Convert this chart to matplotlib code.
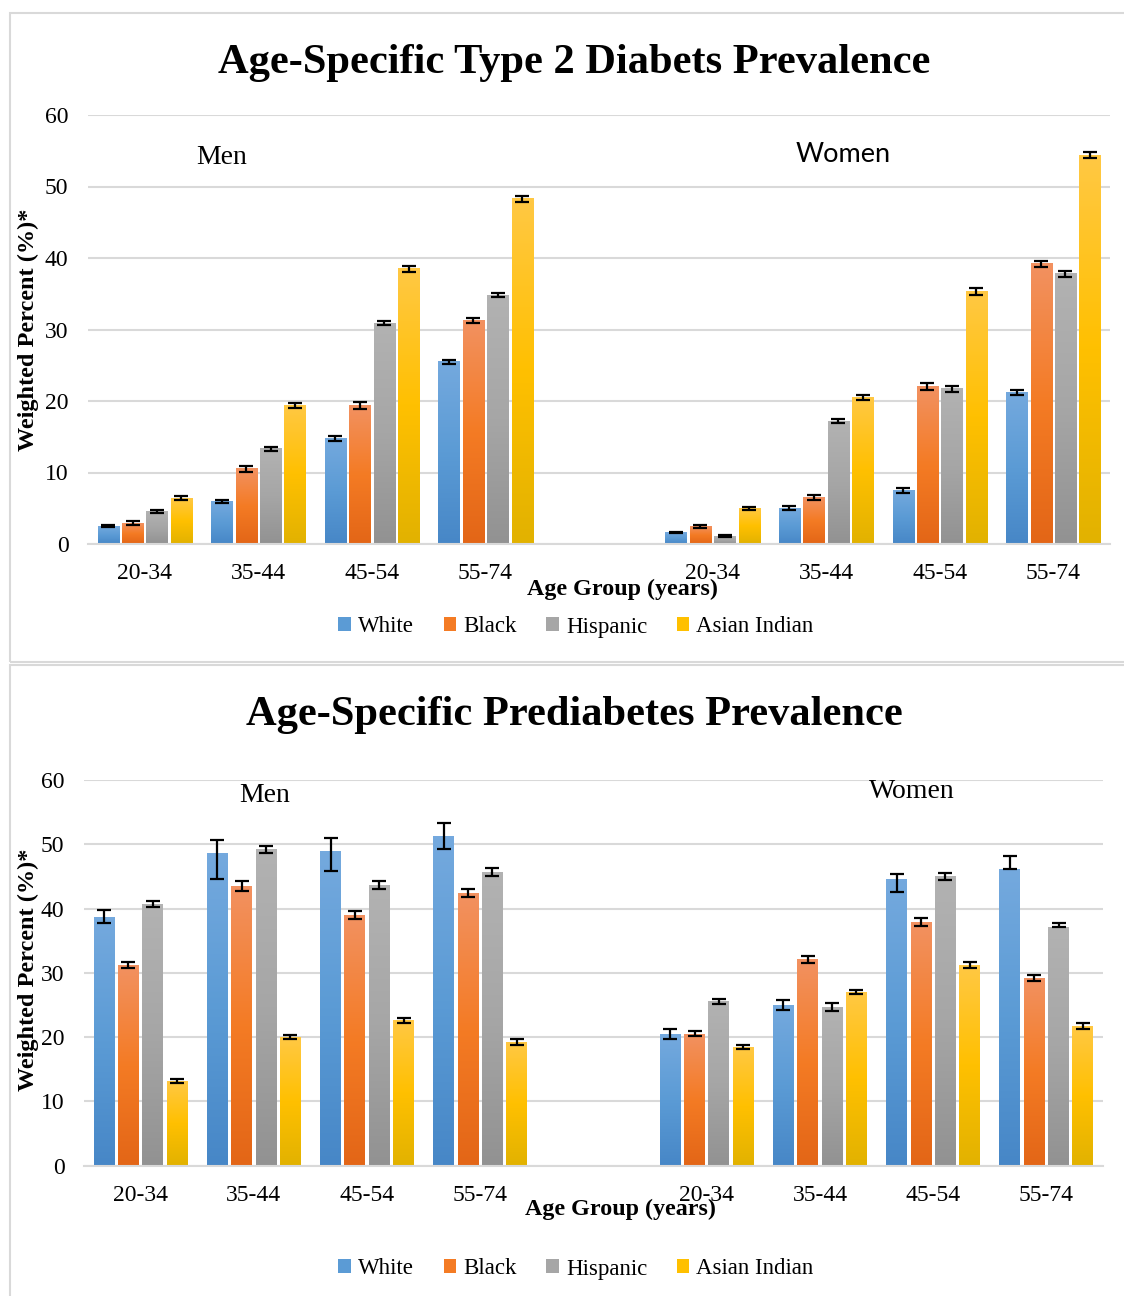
import numpy as np
import matplotlib
matplotlib.use("Agg")
import matplotlib.pyplot as plt
from matplotlib.patches import Patch, Rectangle
from matplotlib.colors import to_rgb

# ---------- data ----------
groups = ["20-34", "35-44", "45-54", "55-74", "", "20-34", "35-44", "45-54", "55-74"]
races = ["White", "Black", "Hispanic", "Asian Indian"]

# Type 2 diabetes (men 4 groups, blank, women 4 groups)
dm_white = [2.5, 5.9, 14.7, 25.5, 0, 1.6, 5.0, 7.5, 21.2]
dm_black = [2.9, 10.5, 19.4, 31.2, 0, 2.5, 6.5, 22.0, 39.2]
dm_hisp = [4.5, 13.3, 30.9, 34.8, 0, 1.1, 17.2, 21.7, 37.8]
dm_asian = [6.4, 19.4, 38.5, 48.3, 0, 5.0, 20.5, 35.3, 54.4]
dm_err_white = [0.1, 0.2, 0.35, 0.3, 0, 0.1, 0.3, 0.3, 0.3]
dm_err_black = [0.25, 0.45, 0.45, 0.35, 0, 0.2, 0.4, 0.45, 0.4]
dm_err_hisp = [0.2, 0.3, 0.3, 0.3, 0, 0.1, 0.3, 0.4, 0.4]
dm_err_asian = [0.25, 0.35, 0.45, 0.4, 0, 0.2, 0.35, 0.45, 0.4]

# Prediabetes
pre_white = [38.7, 48.6, 48.9, 51.3, 0, 20.5, 25.0, 44.6, 46.1]
pre_black = [31.2, 43.5, 39.0, 42.4, 0, 20.5, 32.1, 37.9, 29.2]
pre_hisp = [40.7, 49.2, 43.7, 45.7, 0, 25.6, 24.7, 45.0, 37.1]
pre_asian = [13.2, 20.0, 22.6, 19.2, 0, 18.5, 27.0, 31.2, 21.7]
# (lower, upper)
pre_err_white = ([1.0, 4.0, 3.1, 2.1, 0, 0.8, 0.8, 2.1, 0.0],
                 [1.1, 2.0, 2.1, 2.0, 0, 0.8, 0.8, 0.8, 2.0])
pre_err_black = ([0.5, 0.8, 0.65, 0.6, 0, 0.4, 0.5, 0.6, 0.5],
                 [0.5, 0.8, 0.65, 0.6, 0, 0.4, 0.5, 0.6, 0.5])
pre_err_hisp = ([0.4, 0.6, 0.65, 0.65, 0, 0.4, 0.6, 0.6, 0.0],
                [0.4, 0.6, 0.65, 0.65, 0, 0.4, 0.6, 0.6, 0.7])
pre_err_asian = ([0.3, 0.35, 0.4, 0.45, 0, 0.3, 0.35, 0.45, 0.5],
                 [0.3, 0.35, 0.4, 0.45, 0, 0.3, 0.35, 0.45, 0.5])

# gradient stops (top, middle, bottom) per race
grad = {
    "White": ["#74a9de", "#5b9bd5", "#4787c7"],
    "Black": ["#f29160", "#f47b24", "#e36617"],
    "Hispanic": ["#b2b2b2", "#a6a6a6", "#929292"],
    "Asian Indian": ["#ffc843", "#ffc000", "#e2b200"],
}

W, H = 1124, 1296
fig = plt.figure(figsize=(W / 100, H / 100), dpi=100)
SERIF = "Liberation Serif"


def fx(x):
    return x / W


def fy(y):
    return 1 - y / H


def gradient(stops, n=64):
    c = np.array([to_rgb(s) for s in stops])
    t = np.linspace(0, 1, n)
    img = np.empty((n, 1, 3))
    for k in range(3):
        img[:, 0, k] = np.interp(t, [0, 0.5, 1], c[:, k])
    return img


def panel(rect_ax, series, errs, title, title_y, box, men_xy, women_xy, women_font,
          women_size, xlabel_xy, ylabel_xy, legend_y):
    # panel border
    fig.patches.append(Rectangle((fx(box[0]), fy(box[3])), fx(box[2] - box[0]),
                                 (box[3] - box[1]) / H, transform=fig.transFigure,
                                 fill=False, edgecolor="#d9d9d9", lw=1.5))
    ax = fig.add_axes(rect_ax)
    x = np.arange(len(groups))
    step, width = 0.215, 0.185
    mask = np.array([g != "" for g in groups])
    for i, (race, vals) in enumerate(zip(races, series)):
        off = (i - 1.5) * step
        vals = np.array(vals, dtype=float)
        bars = ax.bar(x[mask] + off, vals[mask], width, color="none", zorder=2)
        img = gradient(grad[race])
        for r in bars:
            x0, w, h = r.get_x(), r.get_width(), r.get_height()
            ax.imshow(img, extent=(x0, x0 + w, 0, h), aspect="auto",
                      interpolation="bilinear", zorder=2)
        e = errs[i]
        if isinstance(e, tuple):
            yerr = np.array([np.array(e[0])[mask], np.array(e[1])[mask]])
        else:
            yerr = np.array(e)[mask]
        ax.errorbar(x[mask] + off, vals[mask], yerr=yerr, fmt="none",
                    ecolor="black", elinewidth=1.6, capsize=5, capthick=1.6, zorder=3)
    ax.set_xlim(-0.5, len(groups) - 0.5)
    ax.set_ylim(0, 60)
    ax.set_yticks(range(0, 61, 10))
    ax.set_xticks(x)
    ax.set_xticklabels(groups)
    ax.yaxis.grid(True, color="#d9d9d9", lw=1.5, zorder=0)
    ax.set_axisbelow(True)
    for s in ["top", "right", "left"]:
        ax.spines[s].set_visible(False)
    ax.spines["bottom"].set_color("#d9d9d9")
    ax.spines["bottom"].set_linewidth(1.5)
    ax.tick_params(length=0, labelsize=17)
    ax.tick_params(axis="x", pad=14)
    ax.tick_params(axis="y", pad=14)
    for lab in ax.get_xticklabels() + ax.get_yticklabels():
        lab.set_fontfamily(SERIF)

    fig.text(fx(574), fy(title_y), title, ha="center", va="center",
             fontsize=30.6, fontweight="bold", family=SERIF)
    fig.text(fx(men_xy[0]), fy(men_xy[1]), "Men", ha="center", va="center",
             fontsize=20, family=SERIF)
    fig.text(fx(women_xy[0]), fy(women_xy[1]), "Women", ha="center", va="center",
             fontsize=women_size, family=women_font)
    fig.text(fx(xlabel_xy[0]), fy(xlabel_xy[1]), "Age Group (years)", ha="center",
             va="center", fontsize=17.3, fontweight="bold", family=SERIF)
    fig.text(fx(ylabel_xy[0]), fy(ylabel_xy[1]), "Weighted Percent (%)*", ha="center",
             va="center", rotation=90, fontsize=17.5, fontweight="bold", family=SERIF)
    handles = [Patch(facecolor=grad[r][1], edgecolor="none") for r in races]
    fig.legend(handles, races, loc="center", bbox_to_anchor=(fx(576), fy(legend_y)),
               ncol=4, frameon=False, prop={"family": SERIF, "size": 16.5},
               handlelength=0.55, handleheight=0.55, handletextpad=0.3,
               columnspacing=1.3)
    return ax


panel([fx(88), fy(544), fx(1110) - fx(88), (544 - 115) / H],
      [dm_white, dm_black, dm_hisp, dm_asian],
      [dm_err_white, dm_err_black, dm_err_hisp, dm_err_asian],
      "Age-Specific Type 2 Diabets Prevalence", 63, (10, 13, 1130, 662),
      (222, 157), (843, 155), "Lato", 19.5, (622, 589), (28, 330), 627)

panel([fx(84), fy(1165.6), fx(1103) - fx(84), (1165.6 - 780) / H],
      [pre_white, pre_black, pre_hisp, pre_asian],
      [pre_err_white, pre_err_black, pre_err_hisp, pre_err_asian],
      "Age-Specific Prediabetes Prevalence", 715, (10, 665, 1130, 1300),
      (265, 795), (912, 792), SERIF, 20, (620, 1209), (28, 970), 1269)

fig.savefig("out.png", dpi=100)
